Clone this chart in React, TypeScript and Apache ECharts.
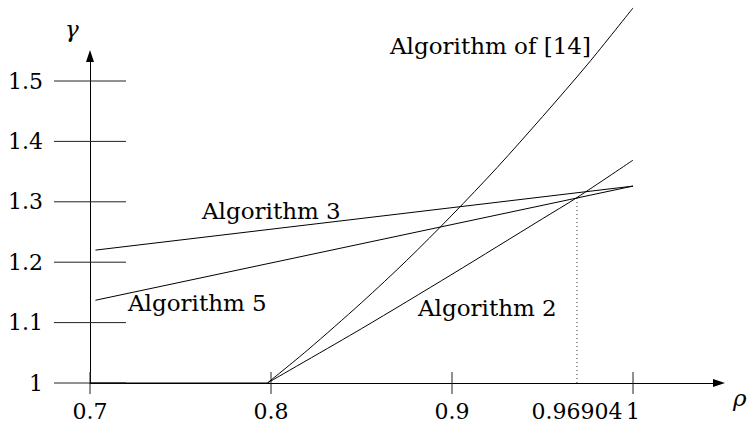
import React, { useEffect, useRef } from "react";
import * as echarts from "echarts";

// ---- data ----
const alg3Rho = [0.703, 1.0];
const alg3Gamma = [1.22, 1.326];

const alg5Rho = [0.703, 1.0];
const alg5Gamma = [1.137, 1.326];

const alg2Rho = [0.798, 0.85, 0.9, 0.95, 0.96904, 1.0];
const alg2Gamma = [1.0, 1.09, 1.18, 1.272, 1.307, 1.369];

const alg14Rho = [0.798, 0.82, 0.85, 0.875, 0.9, 0.925, 0.95, 0.975, 1.0];
const alg14Gamma = [1.0, 1.054, 1.133, 1.203, 1.278, 1.357, 1.441, 1.528, 1.621];

const baseRho = [0.7, 0.798];
const baseGamma = [1.0, 1.0];

const crossRho = 0.96904;
const crossGamma = 1.307;

const xTickValues = [0.7, 0.8, 0.9, 1.0];
const xLabelValues = [0.7, 0.8, 0.9, 0.96904, 1.0];
const yTickValues = [1.0, 1.1, 1.2, 1.3, 1.4, 1.5];

const FONT = "DejaVu Serif";
const FS = 23;
const NUM_FS = 22;
const INK = "#000";

const zip = (xs: number[], ys: number[]) => xs.map((x, i) => [x, ys[i]]);

const textStyle = (text: string, italic = false) => ({
  text,
  fontFamily: FONT,
  fontSize: FS,
  fontStyle: italic ? "italic" : "normal",
  fill: INK,
});

export default function App() {
  const ref = useRef<HTMLDivElement>(null);

  useEffect(() => {
    if (!ref.current) return;
    const chart = echarts.init(ref.current, undefined, { renderer: "svg" });

    const lineSeries = (name: string, data: number[][], smooth: boolean | number = false) => ({
      name,
      type: "line",
      data,
      showSymbol: false,
      symbol: "none",
      smooth,
      clip: false,
      silent: true,
      lineStyle: { color: INK, width: 1 },
      z: 3,
    });

    chart.setOption({
      animation: false,
      backgroundColor: "#fff",
      textStyle: { fontFamily: FONT },
      grid: { left: 90, top: 56, width: 629, height: 327, containLabel: false },
      xAxis: {
        type: "value",
        min: 0.7,
        max: 1.0475,
        axisLine: {
          show: true,
          onZero: false,
          symbol: ["none", "triangle"],
          symbolSize: [8, 12],
          lineStyle: { color: INK, width: 1 },
        },
        axisTick: { show: false },
        splitLine: { show: false },
        axisLabel: {
          customValues: xLabelValues,
          margin: 17,
          fontSize: NUM_FS,
          fontFamily: FONT,
          color: INK,
          formatter: (v: number) => String(v),
        },
      },
      yAxis: {
        type: "value",
        min: 1,
        max: 1.5414,
        axisLine: {
          show: true,
          onZero: false,
          symbol: ["none", "triangle"],
          symbolSize: [8, 12],
          lineStyle: { color: INK, width: 1 },
        },
        axisTick: { show: false },
        splitLine: { show: false },
        axisLabel: {
          customValues: yTickValues,
          margin: 47,
          fontSize: NUM_FS,
          fontFamily: FONT,
          color: INK,
          formatter: (v: number) => (Math.abs(v - 1) < 1e-9 ? "1" : v.toFixed(1)),
        },
      },
      series: [
        lineSeries("base", zip(baseRho, baseGamma)),
        lineSeries("Algorithm 3", zip(alg3Rho, alg3Gamma)),
        lineSeries("Algorithm 5", zip(alg5Rho, alg5Gamma)),
        lineSeries("Algorithm 2", zip(alg2Rho, alg2Gamma), 0.3),
        lineSeries("Algorithm of [14]", zip(alg14Rho, alg14Gamma), 0.3),
        {
          name: "cross",
          type: "line",
          data: [
            [crossRho, 1.0],
            [crossRho, crossGamma],
          ],
          showSymbol: false,
          symbol: "none",
          clip: false,
          silent: true,
          lineStyle: { color: "#333", width: 1, type: [1, 3] },
          z: 2,
        },
        {
          name: "yTicks",
          type: "custom",
          clip: false,
          silent: true,
          data: yTickValues.map((v) => [0.7, v]),
          renderItem: (_p: any, api: any) => {
            const pt = api.coord([api.value(0), api.value(1)]);
            return {
              type: "line",
              shape: { x1: pt[0] - 36, y1: pt[1], x2: pt[0] + 36, y2: pt[1] },
              style: { stroke: "#222", lineWidth: 1 },
            };
          },
          z: 2,
        },
        {
          name: "xTicks",
          type: "custom",
          clip: false,
          silent: true,
          data: xTickValues.map((v) => [v, 1.0]),
          renderItem: (_p: any, api: any) => {
            const pt = api.coord([api.value(0), api.value(1)]);
            return {
              type: "line",
              shape: { x1: pt[0], y1: pt[1] - 11, x2: pt[0], y2: pt[1] + 11 },
              style: { stroke: "#222", lineWidth: 1 },
            };
          },
          z: 2,
        },
      ],
      graphic: [
        { type: "text", left: 65, top: 17, style: textStyle("γ", true) },
        { type: "text", left: 733, top: 386, style: textStyle("ρ", true) },
        { type: "text", left: 390, top: 34, style: textStyle("Algorithm of [14]") },
        { type: "text", left: 202, top: 199, style: textStyle("Algorithm 3") },
        { type: "text", left: 128, top: 291, style: textStyle("Algorithm 5") },
        { type: "text", left: 418, top: 296, style: textStyle("Algorithm 2") },
      ],
    });

    return () => chart.dispose();
  }, []);

  return (
    <div
      ref={ref}
      style={{ position: "fixed", left: 0, top: 0, width: 747, height: 425, background: "#fff" }}
    />
  );
}
